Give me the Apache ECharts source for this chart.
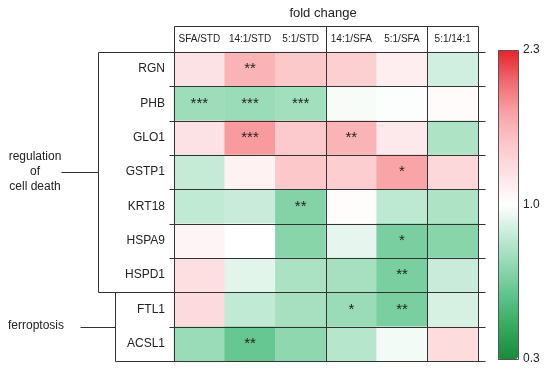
<!DOCTYPE html>
<html><head><meta charset="utf-8">
<script src="https://cdn.jsdelivr.net/npm/echarts@6/dist/echarts.min.js"></script>
<style>html,body{margin:0;padding:0;background:#fff}#c{width:550px;height:373px}</style>
</head><body><div id="c"></div>
<script>
// ---------- data ----------
const columns = ['SFA/STD', '14:1/STD', '5:1/STD', '14:1/SFA', '5:1/SFA', '5:1/14:1'];
const genes = ['RGN', 'PHB', 'GLO1', 'GSTP1', 'KRT18', 'HSPA9', 'HSPD1', 'FTL1', 'ACSL1'];

const foldRGN   = [1.26, 1.65, 1.49, 1.44, 1.15, 0.89];
const foldPHB   = [0.76, 0.75, 0.77, 0.98, 0.99, 1.04];
const foldGLO1  = [1.26, 1.81, 1.48, 1.65, 1.20, 0.80];
const foldGSTP1 = [0.86, 1.12, 1.50, 1.45, 1.75, 1.35];
const foldKRT18 = [0.85, 0.87, 0.69, 1.03, 0.84, 0.80];
const foldHSPA9 = [1.10, 1.00, 0.70, 0.94, 0.66, 0.70];
const foldHSPD1 = [1.30, 0.93, 0.79, 0.78, 0.66, 0.87];
const foldFTL1  = [1.33, 0.85, 0.78, 0.75, 0.66, 0.90];
const foldACSL1 = [0.75, 0.61, 0.72, 0.82, 0.97, 1.32];

const sigRGN   = ['', '**', '', '', '', ''];
const sigPHB   = ['***', '***', '***', '', '', ''];
const sigGLO1  = ['', '***', '', '**', '', ''];
const sigGSTP1 = ['', '', '', '', '*', ''];
const sigKRT18 = ['', '', '**', '', '', ''];
const sigHSPA9 = ['', '', '', '', '*', ''];
const sigHSPD1 = ['', '', '', '', '**', ''];
const sigFTL1  = ['', '', '', '*', '**', ''];
const sigACSL1 = ['', '**', '', '', '', ''];

const scaleMin = 0.3, scaleMid = 1.0, scaleMax = 2.3;
const colorbarLabels = ['0.3', '1.0', '2.3'];
const groupLabels = ['regulation\nof\ncell death', 'ferroptosis'];

// ---------- build ----------
const foldRows = [foldRGN, foldPHB, foldGLO1, foldGSTP1, foldKRT18, foldHSPA9, foldHSPD1, foldFTL1, foldACSL1];
const sigRows = [sigRGN, sigPHB, sigGLO1, sigGSTP1, sigKRT18, sigHSPA9, sigHSPD1, sigFTL1, sigACSL1];
function toScale(v) {
  return v < scaleMid ? 0.5 * (v - scaleMin) / (scaleMid - scaleMin)
                      : 0.5 + 0.5 * (v - scaleMid) / (scaleMax - scaleMid);
}
const data = [];
foldRows.forEach((row, r) => row.forEach((v, c) => {
  data.push({ value: [c, r, toScale(v)], fold: v, sig: sigRows[r][c] });
}));

// layout
const L = 174, T = 52, W = 304, H = 309, HT = 26;
const CW = W / columns.length, RH = H / genes.length;
const LINE = '#333';
const TXT = '#222';
const FONT = "'Liberation Sans', Arial, sans-serif";
const px = v => Math.round(v) + 0.5;
const lines = [];
function seg(x1, y1, x2, y2) {
  lines.push({ type: 'line', z: 100, silent: true,
    shape: { x1: px(x1), y1: px(y1), x2: px(x2), y2: px(y2) },
    style: { stroke: LINE, lineWidth: 1 } });
}
// header top
seg(L, HT, L + W, HT);
// verticals (group separators)
[0, 3, 5, 6].forEach(i => seg(L + i * CW, HT, L + i * CW, T + H));
// row lines
for (let i = 0; i <= genes.length; i++) {
  let x1 = 169;
  if (i === 0 || i === 7) x1 = 98;
  if (i === 9) x1 = 115;
  seg(x1, T + i * RH, 485, T + i * RH);
}
// brackets
seg(98, T, 98, T + 7 * RH);
seg(115, T + 7 * RH, 115, T + 9 * RH);
seg(61, T + 3.5 * RH, 98, T + 3.5 * RH);
seg(80, T + 8 * RH, 115, T + 8 * RH);

const texts = [
  { type: 'text', z: 100, silent: true, style: { text: 'fold change', x: 323, y: 13, textAlign: 'center', textVerticalAlign: 'middle', font: '13px ' + FONT, fill: TXT } },
  { type: 'text', z: 100, silent: true, style: { text: groupLabels[0], x: 35, y: T + 3.5 * RH, textAlign: 'center', textVerticalAlign: 'middle', font: '12px ' + FONT, fill: TXT, lineHeight: 15 } },
  { type: 'text', z: 100, silent: true, style: { text: groupLabels[1], x: 8, y: T + 8 * RH - 1, textAlign: 'left', textVerticalAlign: 'middle', font: '12px ' + FONT, fill: TXT } },
  { type: 'rect', z: 100, silent: true, shape: { x: 498.5, y: 50.5, width: 20, height: 309 }, style: { fill: 'none', stroke: '#555', lineWidth: 1 } }
];

const chart = echarts.init(document.getElementById('c'), null, { renderer: 'canvas' });
chart.setOption({
  backgroundColor: '#fff',
  animation: false,
  textStyle: { fontFamily: FONT },
  grid: [
    { left: L, top: T, width: W, height: H },
    { left: 498, top: 50, width: 20, height: 309 }
  ],
  xAxis: [
    { type: 'category', gridIndex: 0, data: columns, position: 'top',
      axisLine: { show: false }, axisTick: { show: false }, splitLine: { show: false },
      axisLabel: { fontSize: 10, color: TXT, margin: 8, interval: 0 } },
    { type: 'value', gridIndex: 1, show: false, min: 0, max: 1 }
  ],
  yAxis: [
    { type: 'category', gridIndex: 0, data: genes, inverse: true,
      axisLine: { show: false }, axisTick: { show: false }, splitLine: { show: false },
      axisLabel: { fontSize: 12, color: TXT, margin: 9, interval: 0 } },
    { type: 'value', gridIndex: 1, min: 0, max: 1, interval: 0.5, position: 'right',
      axisLine: { show: false }, splitLine: { show: false },
      axisTick: { show: true, length: 4, lineStyle: { color: '#555' } },
      axisLabel: { fontSize: 12, color: TXT, margin: 5,
        formatter: v => colorbarLabels[Math.round(v * 2)] } },
    { type: 'value', gridIndex: 1, min: 0, max: 1, interval: 0.5, position: 'left',
      axisLine: { show: false }, splitLine: { show: false }, axisLabel: { show: false },
      axisTick: { show: true, inside: true, length: 4, lineStyle: { color: '#555' } } },
    { type: 'value', gridIndex: 1, min: 0, max: 1, interval: 0.5, position: 'right',
      axisLine: { show: false }, splitLine: { show: false }, axisLabel: { show: false },
      axisTick: { show: true, inside: true, length: 4, lineStyle: { color: '#555' } } }
  ],
  visualMap: {
    type: 'continuous', min: 0, max: 1, dimension: 2, seriesIndex: 0,
    left: 498, top: 50, itemWidth: 20, itemHeight: 309, padding: 0,
    calculable: false, hoverLink: false, realtime: false,
    inRange: { color: ['#1a8a3c', '#35a85c', '#5cc28a', '#8fd8af', '#c5ebd7', '#ffffff',
                       '#fde2e5', '#fcc6c8', '#f9a1a4', '#f06870', '#e6222a'] }
  },
  series: [{
    type: 'heatmap', xAxisIndex: 0, yAxisIndex: 0, data: data,
    itemStyle: { borderWidth: 0 },
    label: { show: true, formatter: p => p.data.sig, fontSize: 15, color: TXT, fontFamily: FONT },
    emphasis: { disabled: true }
  }],
  graphic: lines.concat(texts)
});
</script>
</body></html>
